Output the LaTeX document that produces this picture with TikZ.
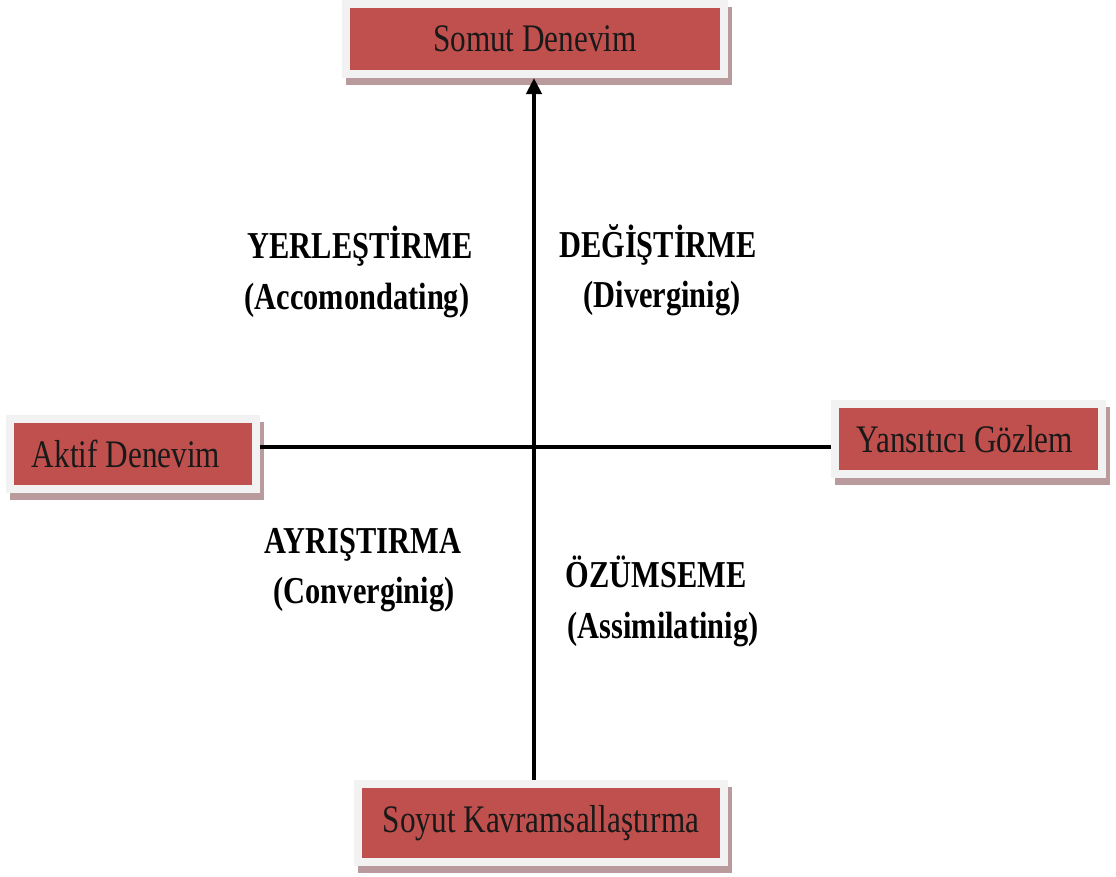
\documentclass[tikz,border=0pt]{standalone}
\usepackage{fontspec}
\usepackage{graphicx}
\setmainfont{Liberation Serif}
\usetikzlibrary{arrows.meta}
\definecolor{boxred}{HTML}{C0504D}
\definecolor{framegray}{HTML}{F2F2F2}
\definecolor{shadowcol}{RGB}{185,155,158}
\newcommand\narrowtext[1]{\scalebox{0.8}[1]{#1}}
\tikzset{
  stagebox/.style={
    preaction={draw=shadowcol, fill=shadowcol, line width=16pt,
      transform canvas={xshift=4pt, yshift=-7pt}},
    preaction={draw=framegray, line width=16pt},
    fill=boxred, inner sep=0pt, outer sep=8pt,
    font=\fontsize{39pt}{47pt}\selectfont, text=black!90},
  quadlabel/.style={anchor=base, inner sep=0pt,
    font=\fontsize{38pt}{46pt}\selectfont\bfseries},
  axis/.style={line width=4pt}
}
\begin{document}
\begin{tikzpicture}[x=1pt,y=-1pt]
\useasboundingbox (0,0) rectangle (1116,876);
\node[stagebox, minimum width=370pt, minimum height=62pt] (somut) at (535,39) {\raisebox{-2pt}{\narrowtext{Somut Denevim}}};
\node[stagebox, minimum width=238pt, minimum height=62pt] (aktif) at (133,454) {\raisebox{-2pt}{\narrowtext{Aktif Denevim}}\hspace*{14pt}};
\node[stagebox, minimum width=259pt, minimum height=62pt] (yansi) at (968,439) {\raisebox{-2pt}{\narrowtext{Yansıtıcı Gözlem}}\hspace*{6pt}};
\node[stagebox, minimum width=358pt, minimum height=70pt] (soyut) at (541,823) {\narrowtext{Soyut Kavramsallaştırma}};
\coordinate (cross) at (534,447);
\draw[axis] (aktif.east |- cross) -- (yansi.west |- cross);
\draw[axis, -{Triangle[length=16pt,width=15pt]}] (cross |- soyut.north) -- (cross |- somut.south);
\node[quadlabel] (yer1) at (360,258) {\narrowtext{YERLEŞTİRME}};
\node[quadlabel] (yer2) at (357,309) {\narrowtext{(Accomondating)}};
\node[quadlabel] (deg1) at (658,257) {\narrowtext{DEĞİŞTİRME}};
\node[quadlabel] (deg2) at (662,307) {\narrowtext{(Diverginig)}};
\node[quadlabel] (ayr1) at (363,553) {\narrowtext{AYRIŞTIRMA}};
\node[quadlabel] (ayr2) at (364,603) {\narrowtext{(Converginig)}};
\node[quadlabel] (ozu1) at (656,587) {\narrowtext{ÖZÜMSEME}};
\node[quadlabel] (ozu2) at (663,638) {\narrowtext{(Assimilatinig)}};
\end{tikzpicture}
\end{document}
